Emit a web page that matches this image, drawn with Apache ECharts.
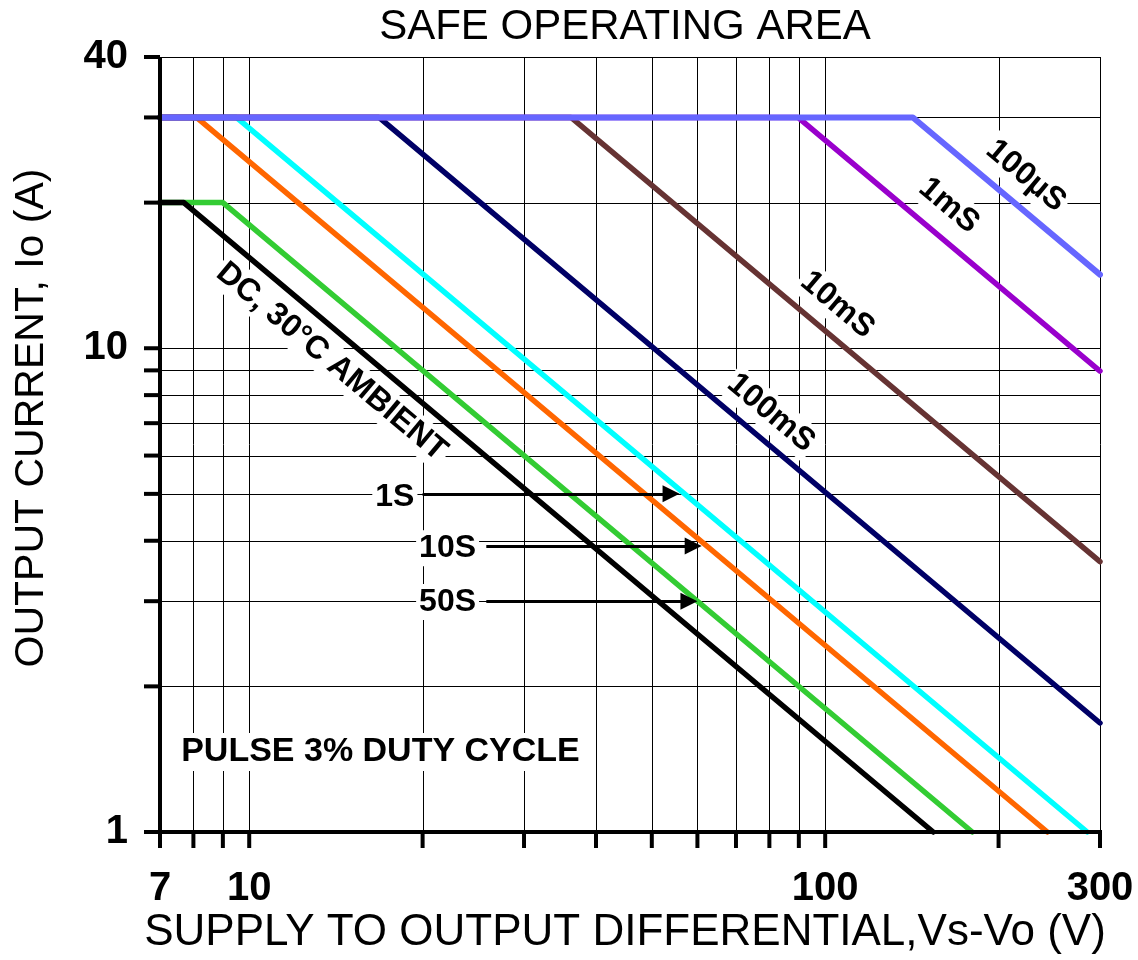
<!DOCTYPE html>
<html><head><meta charset="utf-8">
<script src="https://cdn.jsdelivr.net/npm/echarts@6/dist/echarts.min.js"></script>
<style>html,body{margin:0;padding:0;background:#fff}#c{width:1138px;height:960px}</style>
</head><body><div id="c"></div>
<script>
// ---- tick / label values ----
const xTicks = [7,8,9,10,20,30,40,50,60,70,80,90,100,200,300];
const yTicks = [1,2,3,4,5,6,7,8,9,10,20,30,40];
const xLabels = [7,10,100,300];
const yLabels = [1,10,40];

// ---- curves [V, A] ----
const dcCurve   = [[7,20],[7.7,20],[154,1]];
const s50Curve  = [[7,20],[9,20],[180,1]];
const s10Curve  = [[7,30],[8.1,30],[243,1]];
const s1Curve   = [[7,30],[9.5,30],[285,1]];
const ms100Curve= [[7,30],[16.8,30],[300,1.68]];
const ms10Curve = [[7,30],[36.2,30],[300,3.62]];
const ms1Curve  = [[7,30],[89.7,30],[300,8.97]];
const us100Curve= [[7,30],[142,30],[300,14.2]];

// ---- arrows [from, to] ----
const arrow1S  = [[20,5],[54,5]];
const arrow10S = [[25.8,3.9],[59,3.9]];
const arrow50S = [[25.8,3],[58,3]];

// ---- annotation texts and anchors (data coordinates) ----
const noteTexts   = ['DC, 30°C AMBIENT','100mS','10mS','1mS','100µS','1S','10S','50S','PULSE 3% DUTY CYCLE'];
const noteAnchors = [[13.9,9.37],[80.5,7.35],[105,12.29],[164,19.7],[223,22.7],[17.9,4.93],[22.1,3.86],[22.1,2.99],[16.9,1.464]];
const noteRot     = [-40,-40,-40,-40,-40,0,0,0,0];

const FONT = "'Liberation Sans', Arial, Helvetica, sans-serif";
const chart = echarts.init(document.getElementById('c'), null, {renderer:'canvas'});

function curve(name, data, color, width){
  return {type:'line', name:name, data:data, symbol:'none', clip:false, z:3,
    lineStyle:{color:color, width:width, cap:'round', join:'round'}, animation:false, silent:true};
}

const option = {
  animation:false,
  backgroundColor:'#fff',
  title:{text:'SAFE OPERATING AREA', left:625, top:6, padding:0, textAlign:'center',
    textStyle:{fontFamily:FONT, fontSize:42, fontWeight:'normal', color:'#000'}},
  grid:{left:160, right:38, top:57, bottom:128, containLabel:false},
  xAxis:{type:'log', logBase:10, min:7, max:300,
    axisLine:{show:false}, axisTick:{show:false}, axisLabel:{show:false}, splitLine:{show:false}},
  yAxis:{type:'log', logBase:10, min:1, max:40,
    axisLine:{show:false}, axisTick:{show:false}, axisLabel:{show:false}, splitLine:{show:false}},
  series:[
    curve('50S', s50Curve,'#33CC33',5.5),
    curve('DC', dcCurve,'#000000',5.5),
    curve('10S', s10Curve,'#FF6600',5.5),
    curve('1S', s1Curve,'#00FFFF',5.5),
    curve('100mS', ms100Curve,'#000066',5.5),
    curve('10mS', ms10Curve,'#663333',5.5),
    curve('1mS', ms1Curve,'#9900CC',5.5),
    curve('100µS', us100Curve,'#6666FF',6),
    {type:'line', data:[], z:12, silent:true,
      markLine:{silent:true, animation:false, symbol:['none','triangle'], symbolSize:[17,17],
        lineStyle:{color:'#000', width:3, type:'solid'}, label:{show:false},
        data:[arrow1S,arrow10S,arrow50S].map(a=>[{coord:a[0]},{coord:a[1]}])}}
  ]
};
chart.setOption(option);

// ---- axes, grid lines, ticks, labels, notes through the chart's own scales ----
function px(x,y){ return chart.convertToPixel({gridIndex:0},[x,y]); }
function crisp(v){ return Math.round(v)+0.5; }
const pMin = px(7,1), pMax = px(300,40);
const L = pMin[0], B = pMin[1], R = pMax[0], T = pMax[1];
const TICK = 16;
const g = [];
xTicks.forEach(v=>{
  const x = px(v,1)[0];
  g.push({type:'line', z:0, silent:true, shape:{x1:crisp(x),y1:T,x2:crisp(x),y2:B}, style:{stroke:'#000',lineWidth:1}});
  g.push({type:'line', z:5, silent:true, shape:{x1:x,y1:B,x2:x,y2:B+TICK}, style:{stroke:'#000',lineWidth:4}});
});
yTicks.forEach(v=>{
  const y = px(7,v)[1];
  g.push({type:'line', z:0, silent:true, shape:{x1:L,y1:crisp(y),x2:R,y2:crisp(y)}, style:{stroke:'#000',lineWidth:1}});
  g.push({type:'line', z:5, silent:true, shape:{x1:L-TICK,y1:y,x2:L,y2:y}, style:{stroke:'#000',lineWidth:4}});
});
g.push({type:'line', z:5, silent:true, shape:{x1:L,y1:T,x2:L,y2:B+TICK}, style:{stroke:'#000',lineWidth:4}});
g.push({type:'line', z:5, silent:true, shape:{x1:L-TICK,y1:B,x2:R+2,y2:B}, style:{stroke:'#000',lineWidth:4}});
function txt(text, x, y, font, align, rot, bg){
  const st = {text:text, font:font, fill:'#000', align:align, verticalAlign:'middle', textAlign:align, textVerticalAlign:'middle'};
  if (bg){ st.backgroundColor = '#fff'; st.padding = [2,3]; }
  return {type:'text', z:20, silent:true, x:x, y:y, rotation:(rot||0)*Math.PI/180, style:st};
}
xLabels.forEach(v=>{ g.push(txt(String(v), px(v,1)[0], B+57, 'bold 40px '+FONT, 'center')); });
yLabels.forEach(v=>{ g.push(txt(String(v), L-32, px(7,v)[1], 'bold 40px '+FONT, 'right')); });
g.push(txt('SUPPLY TO OUTPUT DIFFERENTIAL,Vs-Vo (V)', 625, 933, '44px '+FONT, 'center'));
g.push(txt('OUTPUT CURRENT, Io (A)', 32, 418, '41px '+FONT, 'center', 90));
noteTexts.forEach((t,i)=>{
  const p = px(noteAnchors[i][0], noteAnchors[i][1]);
  g.push(txt(t, p[0], p[1], 'bold '+(i===8?34:32)+'px '+FONT, 'center', noteRot[i], true));
});
chart.setOption({graphic:{elements:g}});
</script></body></html>
